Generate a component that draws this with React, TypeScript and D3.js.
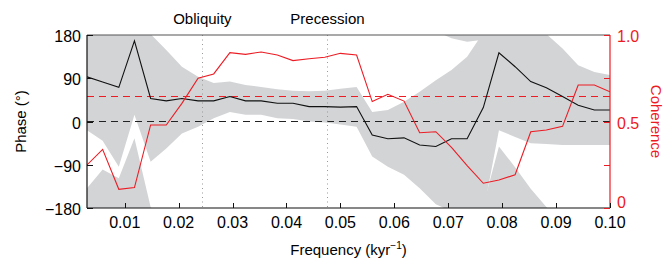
import * as d3 from "d3";

// frequency grid (kyr^-1)
const freq = [
  0.0030, 0.0059, 0.0089, 0.0118, 0.0148, 0.0177, 0.0206, 0.0236, 0.0265, 0.0295,
  0.0324, 0.0353, 0.0383, 0.0412, 0.0442, 0.0471, 0.0500, 0.0530, 0.0559, 0.0588,
  0.0618, 0.0647, 0.0677, 0.0706, 0.0735, 0.0765, 0.0794, 0.0824, 0.0853, 0.0882,
  0.0912, 0.0941, 0.0971, 0.1000,
];
// phase (degrees)
const phase = [
  93, 82, 71, 168, 48, 43, 48, 43, 43, 52,
  43, 43, 38, 38, 31, 31, 30, 31, -28, -36,
  -34, -49, -52, -36, -36, 29, 143, 114, 83, 70,
  52, 34, 24, 24,
];
// phase confidence band, may run past +-180 (it wraps)
const phaseLow = [
  -18, -40, -94, 14, -84, -56, -25, -11, 7, 20,
  14, 14, 7, 5, 0, -2, -6, -11, -73, -94,
  -111, -139, -172, -187, -194, -190, -18, -32, -45, -47,
  -49, -49, -49, -49,
];
const phaseHigh = [
  221, 260, 242, 325, 182, 149, 114, 93, 80, 83,
  76, 72, 67, 64, 63, 64, 68, 72, 20, 24,
  41, 62, 86, 107, 135, 185, 308, 265, 220, 182,
  152, 117, 103, 97,
];
// coherence
const coherence = [
  0.249, 0.339, 0.108, 0.118, 0.48, 0.48, 0.605, 0.75, 0.775, 0.898,
  0.888, 0.902, 0.884, 0.852, 0.863, 0.871, 0.894, 0.884, 0.615, 0.657,
  0.618, 0.435, 0.441, 0.35, 0.245, 0.143, 0.162, 0.192, 0.441, 0.451,
  0.472, 0.711, 0.711, 0.672,
];
const cohLevel = 0.65;

const freqTicks = [0.01, 0.02, 0.03, 0.04, 0.05, 0.06, 0.07, 0.08, 0.09, 0.1];
const freqLabels = ["0.01", "0.02", "0.03", "0.04", "0.05", "0.06", "0.07", "0.08", "0.09", "0.10"];
const phaseTicks = [180, 90, 0, -90, -180];
const phaseLabels = ["180", "90", "0", "\u221290", "\u2212180"];
const cohTicks = [0, 0.25, 0.5, 0.75, 1];
const cohLabelVals = [1, 0.5, 0];
const cohLabels = ["1.0", "0.5", "0"];
const orbitNames = ["Obliquity", "Precession"];
const orbitFreqs = [0.0244, 0.0476];

const W = 666, H = 261;
const L = 87, R = 610, T = 35, B = 208;
const RED = "#ec1c24";
const FONT = "'Liberation Sans', Arial, sans-serif";

const crisp = (v: number) => Math.round(v) + 0.5;

export default function App() {
  const x = d3.scaleLinear().domain([0.003, 0.1]).range([L, R]);
  const yP = d3.scaleLinear().domain([-180, 180]).range([B, T]);
  const yC = d3.scaleLinear().domain([0, 1]).range([B, T]);
  const idx = d3.range(freq.length);

  const band = (off: number) =>
    d3.area<number>()
      .x(i => x(freq[i]))
      .y0(i => yP(phaseLow[i] + off))
      .y1(i => yP(phaseHigh[i] + off))(idx) || "";

  const phaseLine = d3.line<number>().x(i => x(freq[i])).y(i => yP(phase[i]))(idx) || "";
  const cohLine = d3.line<number>().x(i => x(freq[i])).y(i => yC(coherence[i]))(idx) || "";

  const y0 = crisp(yP(0) - 0.5);
  const yLvl = crisp(yC(cohLevel));

  return (
    <>
      <style>{"body{margin:0}"}</style>
      <svg width={W} height={H} style={{ display: "block", fontFamily: FONT }}>
        <defs>
          <clipPath id="plot">
            <rect x={L} y={T} width={R - L} height={B - T} />
          </clipPath>
        </defs>
        <g clipPath="url(#plot)">
          {[-360, 0, 360].map(o => (
            <path key={o} d={band(o)} fill="#d3d4d6" />
          ))}
        </g>

        <line x1={L} x2={R} y1={y0} y2={y0} stroke="#222" strokeWidth={1.2} strokeDasharray="7,5" />
        <line x1={L} x2={R} y1={yLvl} y2={yLvl} stroke={RED} strokeWidth={1.2} strokeDasharray="7,5" />

        {orbitFreqs.map((f, i) => (
          <g key={i}>
            <line x1={crisp(x(f))} x2={crisp(x(f))} y1={T} y2={B} stroke="#999" strokeWidth={1} strokeDasharray="1,3.5" />
            <text x={x(f)} y={24} textAnchor="middle" fontSize={15}>{orbitNames[i]}</text>
          </g>
        ))}

        <g clipPath="url(#plot)">
          <path d={phaseLine} fill="none" stroke="#111" strokeWidth={1.1} />
          <path d={cohLine} fill="none" stroke={RED} strokeWidth={1.1} />
        </g>

        {/* frame */}
        <line x1={L} x2={R} y1={T} y2={T} stroke="#555" strokeWidth={1.2} />
        <line x1={L} x2={R} y1={B} y2={B} stroke="#111" strokeWidth={1.2} />
        <line x1={L} x2={L} y1={T} y2={B} stroke="#111" strokeWidth={1.2} />
        <line x1={R} x2={R} y1={T} y2={B} stroke={RED} strokeWidth={1.2} />

        {/* bottom axis */}
        {freqTicks.map((t, i) => (
          <g key={t}>
            <line x1={crisp(x(t))} x2={crisp(x(t))} y1={B} y2={B - 5} stroke="#111" />
            <text x={x(t)} y={228} textAnchor="middle" fontSize={16}>{freqLabels[i]}</text>
          </g>
        ))}
        <text x={(L + R) / 2} y={255} textAnchor="middle" fontSize={15}>
          Frequency (kyr
          <tspan dy={-6} fontSize={10}>{"\u22121"}</tspan>
          <tspan dy={6}>)</tspan>
        </text>

        {/* left axis */}
        {phaseTicks.map((t, i) => (
          <g key={t}>
            <line x1={L} x2={L + 6} y1={crisp(yP(t))} y2={crisp(yP(t))} stroke="#111" />
            <text x={81} y={yP(t) + 7} textAnchor="end" fontSize={16}>{phaseLabels[i]}</text>
          </g>
        ))}
        <text transform={`translate(26,${(T + B) / 2}) rotate(-90)`} textAnchor="middle" fontSize={15}>
          Phase (°)
        </text>

        {/* right axis */}
        {cohTicks.map(t => (
          <line key={t} x1={R} x2={R - 6} y1={crisp(yC(t))} y2={crisp(yC(t))} stroke={RED} />
        ))}
        {cohLabelVals.map((t, i) => (
          <text key={t} x={617} y={yC(t) + (t === 0 ? 0 : 7)} fontSize={16} fill={RED}>{cohLabels[i]}</text>
        ))}
        <text transform={`translate(651,${(T + B) / 2}) rotate(90)`} textAnchor="middle" fontSize={15} fill={RED}>
          Coherence
        </text>
      </svg>
    </>
  );
}
